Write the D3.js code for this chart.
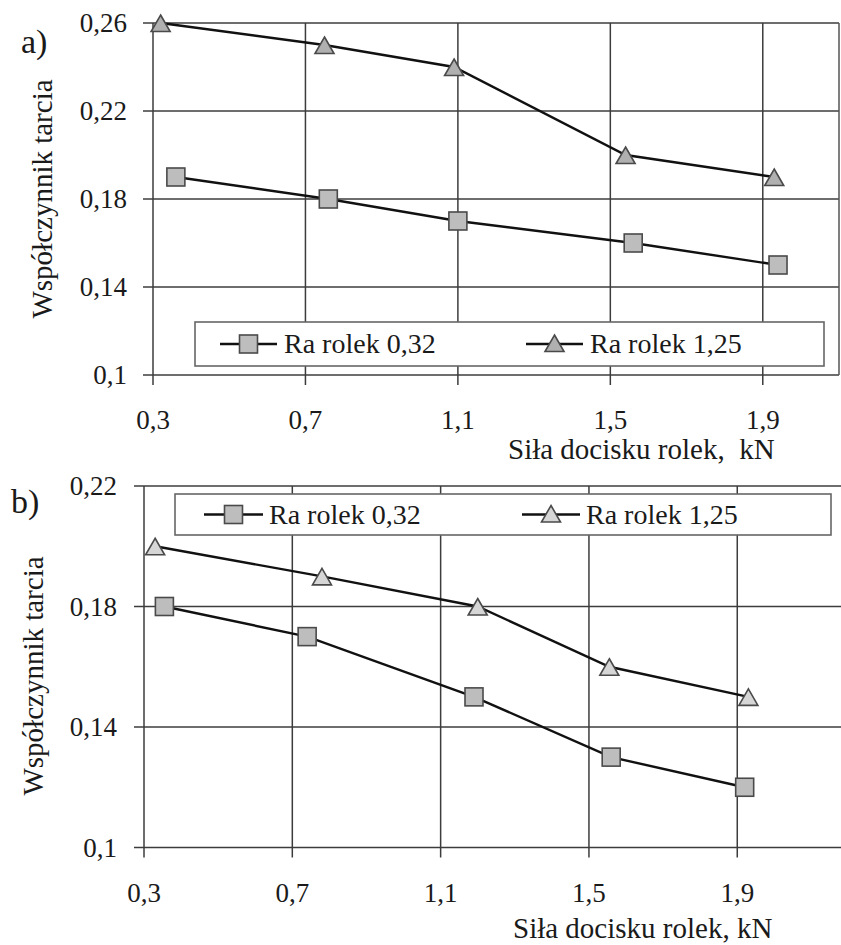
<!DOCTYPE html>
<html><head><meta charset="utf-8"><script src="https://cdn.jsdelivr.net/npm/d3@7"></script></head>
<body style="margin:0">
<svg id="chart" width="841" height="945"></svg>
<script>
// ---- data ----
const seriesNames = ["Ra rolek 0,32", "Ra rolek 1,25"];
const xTicks = [0.3, 0.7, 1.1, 1.5, 1.9];
const xTickLabels = ["0,3", "0,7", "1,1", "1,5", "1,9"];
const aYTicks = [0.1, 0.14, 0.18, 0.22, 0.26];
const aYTickLabels = ["0,1", "0,14", "0,18", "0,22", "0,26"];
const bYTicks = [0.1, 0.14, 0.18, 0.22];
const bYTickLabels = ["0,1", "0,14", "0,18", "0,22"];

// panel a
const aForceSq  = [0.36, 0.76, 1.10, 1.56, 1.94];
const aSq       = [0.19, 0.18, 0.17, 0.16, 0.15];
const aForceTri = [0.32, 0.75, 1.09, 1.54, 1.93];
const aTri      = [0.26, 0.25, 0.24, 0.20, 0.19];
// panel b
const bForceSq  = [0.355, 0.74, 1.19, 1.56, 1.92];
const bSq       = [0.18, 0.17, 0.15, 0.13, 0.12];
const bForceTri = [0.33, 0.78, 1.20, 1.555, 1.93];
const bTri      = [0.20, 0.19, 0.18, 0.16, 0.15];

const xTitleA = "Siła docisku rolek,\u00a0\u00a0kN";
const xTitleB = "Siła docisku rolek, kN";
const yTitle = "Współczynnik tarcia";

const svg = d3.select("#chart");

function txt(g) {
  return g.append("text").style("font-family", `"Liberation Serif"`).attr("fill", "#1a1a1a");
}

function drawPanel(cfg) {
  const g = svg.append("g");
  const x = d3.scaleLinear().domain(cfg.xDomain).range([cfg.left, cfg.right]);
  const y = d3.scaleLinear().domain(cfg.yDomain).range([cfg.bottom, cfg.top]);
  const gridColor = "#3c3c3c";

  g.selectAll(".hg").data(cfg.yTicks).join("line")
    .attr("x1", cfg.left - 10).attr("x2", cfg.right)
    .attr("y1", d => y(d)).attr("y2", d => y(d))
    .attr("stroke", gridColor).attr("stroke-width", 1.5);
  g.selectAll(".vg").data(xTicks).join("line")
    .attr("x1", d => x(d)).attr("x2", d => x(d))
    .attr("y1", cfg.top).attr("y2", cfg.bottom + 10)
    .attr("stroke", gridColor).attr("stroke-width", 1.5);
  if (cfg.rightBorder) {
    g.append("line").attr("x1", cfg.right).attr("x2", cfg.right)
      .attr("y1", cfg.top).attr("y2", cfg.bottom)
      .attr("stroke", "#555").attr("stroke-width", 1.5);
  }

  cfg.yTicks.forEach((d, i) => {
    txt(g).attr("x", cfg.yLabelX).attr("y", y(d)).attr("dy", "0.34em")
      .attr("text-anchor", "end").attr("font-size", 27)
      .text(cfg.yTickLabels[i]);
  });
  xTicks.forEach((d, i) => {
    txt(g).attr("x", x(d)).attr("y", cfg.bottom + cfg.xLabelDy)
      .attr("text-anchor", "middle").attr("font-size", 27)
      .text(xTickLabels[i]);
  });

  txt(g).attr("x", cfg.xTitleX).attr("y", cfg.xTitleY)
    .attr("font-size", 29).attr("text-anchor", "start").text(cfg.xTitle);
  txt(g).attr("transform", `translate(${cfg.yTitleX},${cfg.yTitleY}) rotate(-90)`)
    .attr("text-anchor", "middle").attr("font-size", 29).text(yTitle);
  txt(g).attr("x", cfg.letterX).attr("y", cfg.letterY)
    .attr("font-size", 34).text(cfg.letter);

  const line = d3.line().x(d => x(d[0])).y(d => y(d[1]));
  const sqData = cfg.sqX.map((v, i) => [v, cfg.sqY[i]]);
  const triData = cfg.triX.map((v, i) => [v, cfg.triY[i]]);

  [sqData, triData].forEach(dat => {
    g.append("path").datum(dat).attr("d", line)
      .attr("fill", "none").attr("stroke", "#111").attr("stroke-width", 2.4);
  });

  const sqSize = 18;
  const triPath = "M0,-9 L9.5,7.5 L-9.5,7.5 Z";
  g.selectAll(".sq").data(sqData).join("rect")
    .attr("x", d => x(d[0]) - sqSize / 2).attr("y", d => y(d[1]) - sqSize / 2)
    .attr("width", sqSize).attr("height", sqSize)
    .attr("fill", "#bdbdbd").attr("stroke", "#4a4a4a").attr("stroke-width", 1.6);
  g.selectAll(".tri").data(triData).join("path")
    .attr("transform", d => `translate(${x(d[0])},${y(d[1]) + 1})`)
    .attr("d", triPath)
    .attr("fill", cfg.triFill).attr("stroke", "#4a4a4a").attr("stroke-width", 1.6);

  const L = cfg.legend;
  g.append("rect").attr("x", L.x).attr("y", L.y).attr("width", L.w).attr("height", L.h)
    .attr("fill", "#fff").attr("stroke", "#666").attr("stroke-width", 1.6);
  const cy = L.y + L.h / 2;
  L.items.forEach((it, i) => {
    g.append("line").attr("x1", it.l1).attr("x2", it.l2).attr("y1", cy).attr("y2", cy)
      .attr("stroke", "#111").attr("stroke-width", 2.4);
    const mx = (it.l1 + it.l2) / 2;
    if (i === 0) {
      g.append("rect").attr("x", mx - sqSize / 2).attr("y", cy - sqSize / 2)
        .attr("width", sqSize).attr("height", sqSize)
        .attr("fill", "#bdbdbd").attr("stroke", "#4a4a4a").attr("stroke-width", 1.6);
    } else {
      g.append("path").attr("transform", `translate(${mx},${cy})`).attr("d", triPath)
        .attr("fill", cfg.triFill).attr("stroke", "#4a4a4a").attr("stroke-width", 1.6);
    }
    txt(g).attr("x", it.tx).attr("y", cy).attr("dy", "0.33em")
      .attr("font-size", 28).text(seriesNames[i]);
  });
}

drawPanel({
  letter: "a)", letterX: 21, letterY: 53,
  xDomain: [0.3, 2.1], yDomain: [0.1, 0.26],
  left: 153, right: 839, top: 23, bottom: 375, rightBorder: true,
  yTicks: aYTicks, yTickLabels: aYTickLabels, yLabelX: 127, xLabelDy: 54,
  xTitle: xTitleA, xTitleX: 508, xTitleY: 459,
  yTitleX: 52, yTitleY: 199,
  sqX: aForceSq, sqY: aSq, triX: aForceTri, triY: aTri, triFill: "#b0b0b0",
  legend: { x: 195, y: 322, w: 629, h: 44,
    items: [{ l1: 220, l2: 277, tx: 284 }, { l1: 526, l2: 583, tx: 590 }] }
});

drawPanel({
  letter: "b)", letterX: 11, letterY: 513,
  xDomain: [0.3, 2.2], yDomain: [0.1, 0.22],
  left: 144, right: 848.5, top: 486, bottom: 847.5, rightBorder: false,
  yTicks: bYTicks, yTickLabels: bYTickLabels, yLabelX: 117, xLabelDy: 54,
  xTitle: xTitleB, xTitleX: 513, xTitleY: 938,
  yTitleX: 43, yTitleY: 676,
  sqX: bForceSq, sqY: bSq, triX: bForceTri, triY: bTri, triFill: "#d6d6d6",
  legend: { x: 175, y: 494, w: 656, h: 41,
    items: [{ l1: 204, l2: 263, tx: 269 }, { l1: 522, l2: 580, tx: 586 }] }
});
</script>
</body>
</html>
